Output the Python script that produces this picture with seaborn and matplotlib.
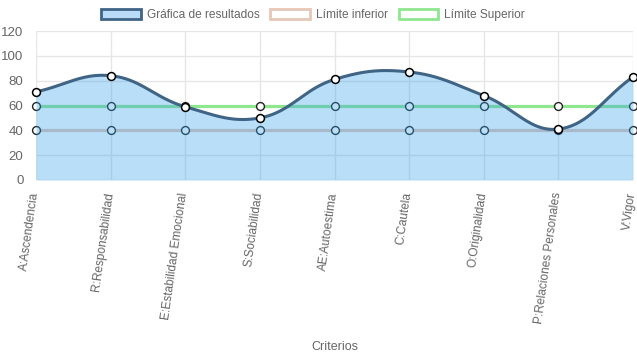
import numpy as np
import pandas as pd
import matplotlib
matplotlib.use("Agg")
import matplotlib.pyplot as plt
from matplotlib.patches import Patch
from matplotlib.transforms import ScaledTranslation
import seaborn as sns

categories = ["A:Ascendencia", "R:Responsabilidad", "E:Estabilidad Emocional",
              "S:Sociabilidad", "AE:Autoestima", "C:Cautela", "O:Originalidad",
              "P:Relaciones Personales", "V:Vigor"]
resultados = [71, 84, 59, 50, 81, 87, 68, 41, 83]
limite_inferior = [40, 40, 40, 40, 40, 40, 40, 40, 40]
limite_superior = [60, 60, 60, 60, 60, 60, 60, 60, 60]
y_ticks = [0, 20, 40, 60, 80, 100, 120]

sns.set_theme(style="white")
plt.rcParams['font.family'] = ['Liberation Sans', 'DejaVu Sans']

W, H = 637, 359
fig = plt.figure(figsize=(W / 100, H / 100), dpi=100)
L, R, T, B = 36, 633, 31, 180
ax = fig.add_axes([L / W, 1 - B / H, (R - L) / W, (B - T) / H])

x = np.arange(len(categories))
df = pd.DataFrame({"x": x, "res": resultados, "inf": limite_inferior, "sup": limite_superior})

# Chart.js-style spline (tension 0.4) computed in pixel space
sx = (R - L) / (len(categories) - 1)
sy = (B - T) / 120.0


def spline(xs, ys, t=0.4):
    px = np.asarray(xs, float) * sx
    py = np.asarray(ys, float) * sy
    n = len(px)
    cps = []
    for i in range(n):
        pi = max(i - 1, 0)
        ni = min(i + 1, n - 1)
        d01 = np.hypot(px[i] - px[pi], py[i] - py[pi])
        d12 = np.hypot(px[ni] - px[i], py[ni] - py[i])
        tot = d01 + d12
        s01 = d01 / tot if tot else 0
        s12 = d12 / tot if tot else 0
        fa, fb = t * s01, t * s12
        dx, dy = px[ni] - px[pi], py[ni] - py[pi]
        cps.append(((px[i] - fa * dx, py[i] - fa * dy), (px[i] + fb * dx, py[i] + fb * dy)))
    outx, outy = [], []
    tt = np.linspace(0, 1, 60)
    for i in range(n - 1):
        p0 = np.array([px[i], py[i]])
        p1 = np.array(cps[i][1])
        p2 = np.array(cps[i + 1][0])
        p3 = np.array([px[i + 1], py[i + 1]])
        pts = ((1 - tt) ** 3)[:, None] * p0 + (3 * (1 - tt) ** 2 * tt)[:, None] * p1 \
            + (3 * (1 - tt) * tt ** 2)[:, None] * p2 + (tt ** 3)[:, None] * p3
        outx.extend(pts[:, 0] / sx)
        outy.extend(pts[:, 1] / sy)
    return np.array(outx), np.array(outy)


cx, cy = spline(df["x"], df["res"])

# grid
for v in y_ticks:
    ax.axhline(v, color="#e6e6e6" if v else "#d0d0d0", lw=1, zorder=0)
for xi in x:
    ax.axvline(xi, color="#e6e6e6", lw=1, zorder=0)

# limit lines (under the fill)
sns.lineplot(data=df, x="x", y="inf", ax=ax, color="#e6c8b8", lw=2.3, zorder=1, legend=False)
sns.lineplot(data=df, x="x", y="sup", ax=ax, color="#8ee68e", lw=2.3, zorder=1, legend=False)
for col in ["inf", "sup"]:
    sns.scatterplot(data=df, x="x", y=col, ax=ax, s=32, color="white", edgecolor="#222222",
                    linewidth=1.0, zorder=1.5, legend=False, clip_on=False)

ax.fill_between(cx, 0, cy, color=(54 / 255, 162 / 255, 235 / 255, 0.35), lw=0, zorder=2)
ax.plot(cx, cy, color="#3f6485", lw=2.2, zorder=3, solid_capstyle="round")
sns.scatterplot(data=df, x="x", y="res", ax=ax, s=32, color="white", edgecolor="black",
                linewidth=1.1, zorder=4, legend=False, clip_on=False)

ax.set_xlim(0, len(categories) - 1)
ax.set_ylim(0, 120)
ax.set_yticks(y_ticks)
ax.set_xticks(x)
ax.set_xticklabels(categories, rotation=82, ha="right", va="center", rotation_mode="anchor")
ax.tick_params(axis="both", colors="#e0e0e0", labelcolor="#666666", labelsize=8.6, length=7,
               width=1, pad=2, direction="out")
ax.tick_params(axis="y", labelsize=9.5)
shift = ScaledTranslation(-1 / 100, 0, fig.dpi_scale_trans)
for lab in ax.get_xticklabels():
    lab.set_transform(lab.get_transform() + shift)
ax.set_xlabel("")
ax.set_ylabel("")
for s in ax.spines.values():
    s.set_visible(False)

fig.text(335 / W, 1 - 347 / H, "Criterios", ha="center", va="center", color="#666666", fontsize=9)

handles = [Patch(facecolor="#b9dbf7", edgecolor="#3f6485", lw=2),
           Patch(facecolor="white", edgecolor="#e6c8b8", lw=2),
           Patch(facecolor="white", edgecolor="#8ee68e", lw=2)]
fig.legend(handles, ["Gráfica de resultados", "Límite inferior", "Límite Superior"],
           loc="center", bbox_to_anchor=(313 / W, 1 - 15 / H), ncol=3, frameon=False,
           fontsize=8.6, handlelength=3.3, handleheight=1.0, columnspacing=0.9,
           handletextpad=0.5, labelcolor="#666666")

fig.savefig("out.png", dpi=100)
